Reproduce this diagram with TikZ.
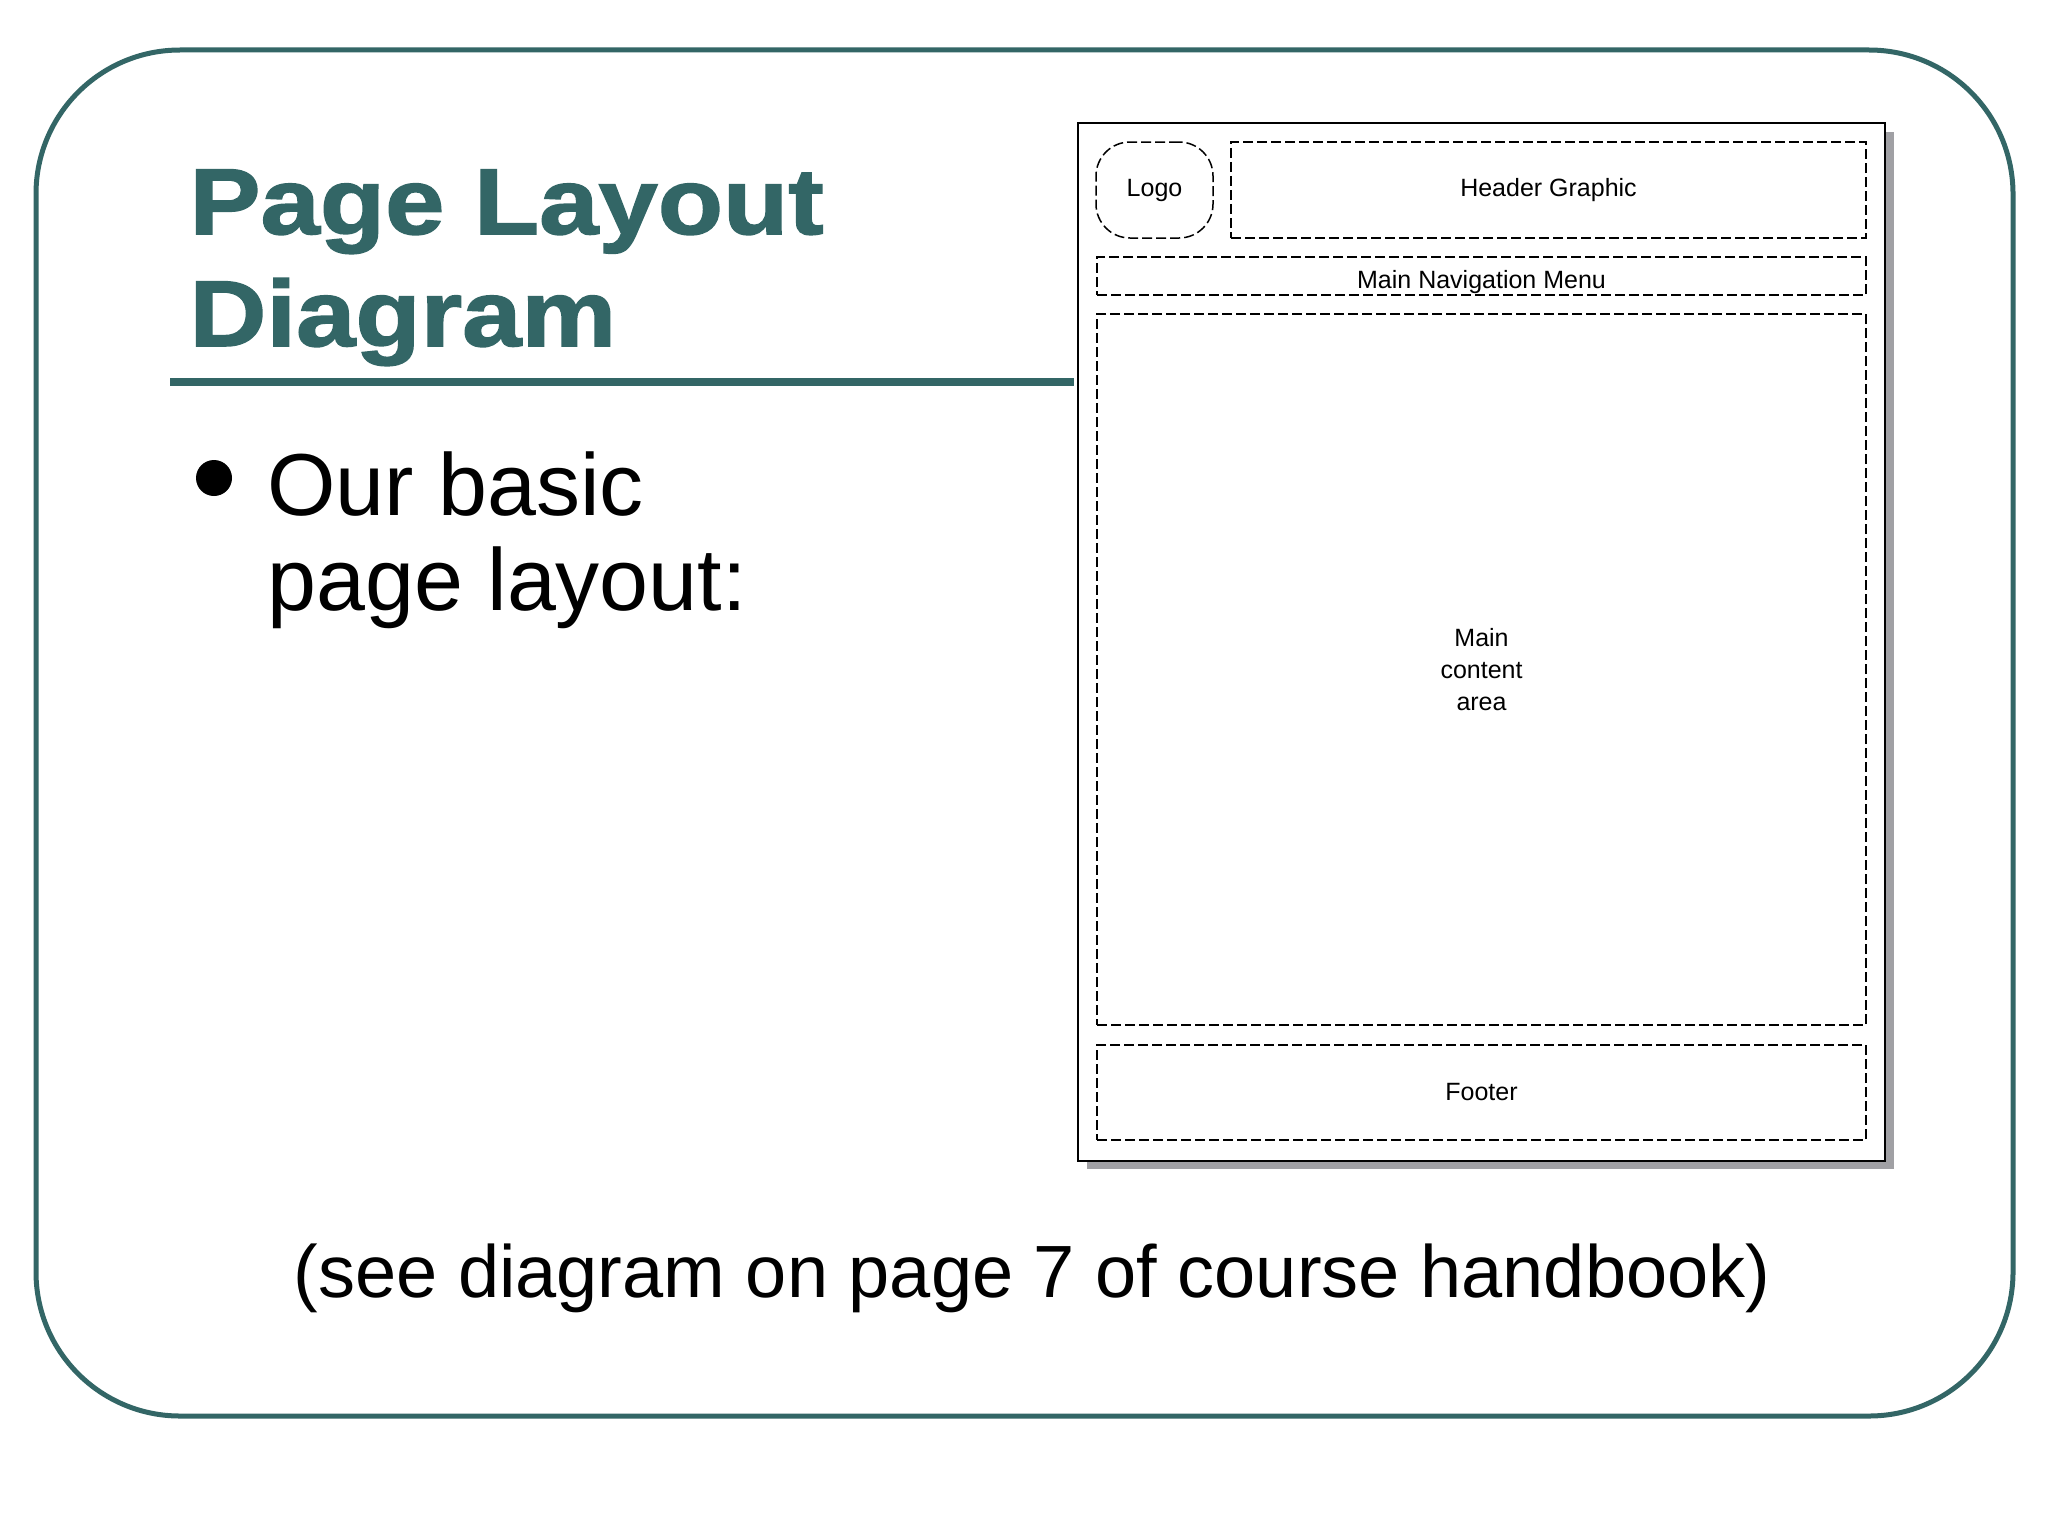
\documentclass[tikz,border=0pt]{standalone}
\usepackage{fontspec}
\setmainfont{Liberation Sans}
\newfontfamily\titlefont[FakeStretch=1.14,FakeBold=1.6]{Liberation Sans}
\definecolor{teal}{HTML}{336666}
\definecolor{shadowgrey}{HTML}{A0A0A4}
\tikzset{
  frame/.style={draw=teal, line width=2.5pt, rounded corners=72pt},
  titletext/.style={text=teal, inner sep=0pt, anchor=base west, font=\titlefont\bfseries\fontsize{46.8pt}{56pt}\selectfont},
  bodytext/.style={text=black, inner sep=0pt, font=\fontsize{44pt}{52pt}\selectfont},
  notetext/.style={text=black, inner sep=0pt, font=\fontsize{37pt}{44pt}\selectfont},
  dbox/.style={draw=black, line width=0.75pt, dash pattern=on 5pt off 2pt, inner sep=0pt, font=\fontsize{12.5pt}{16pt}\selectfont, align=center},
  dtext/.style={inner sep=0pt, font=\fontsize{12.5pt}{16pt}\selectfont, align=center},
}
\begin{document}
\begin{tikzpicture}[x=0.5pt,y=-0.5pt]
\useasboundingbox (0,0) rectangle (2048,1536);
\fill[white] (0,0) rectangle (2048,1536);
% slide frame
\draw[frame] (36,50) rectangle (2013,1416);
% title
\node[titletext] (title1) at (189,234) {Page Layout};
\node[titletext] (title2) at (189,346) {Diagram};
\draw[teal, line width=4pt] (170,382) -- (1074,382);
% bullet text
\fill[black] (214,478) circle (9pt);
\node[bodytext, anchor=base west] (line1) at (267,515) {Our basic};
\node[bodytext, anchor=base west] (line2) at (267,610) {page layout:};
\node[notetext, anchor=base] (note) at (1032,1297) {(see diagram on page 7 of course handbook)};
% page diagram
\fill[shadowgrey] (1087,132) rectangle (1894,1169);
\node[draw=black, fill=white, line width=1.2pt, minimum width=403.5pt, minimum height=519pt, inner sep=0pt] (page) at (1481.5,642) {};
\node[dbox, rounded corners=17pt, minimum width=58.5pt, minimum height=48pt] (logo) at (1154.5,190) {Logo};
\node[dbox, minimum width=317.5pt, minimum height=48pt] (header) at (1548.5,190) {Header Graphic};
\node[dbox, minimum width=384.5pt, minimum height=19pt] (nav) at (1481.5,276) {};
\node[dtext, anchor=base] (navtext) at (1481.5,288) {Main Navigation Menu};
\node[dbox, minimum width=384.5pt, minimum height=355.5pt] (content) at (1481.5,669.5) {Main\\content\\area};
\node[dbox, minimum width=384.5pt, minimum height=47.5pt] (footer) at (1481.5,1092.5) {Footer};
\end{tikzpicture}
\end{document}
